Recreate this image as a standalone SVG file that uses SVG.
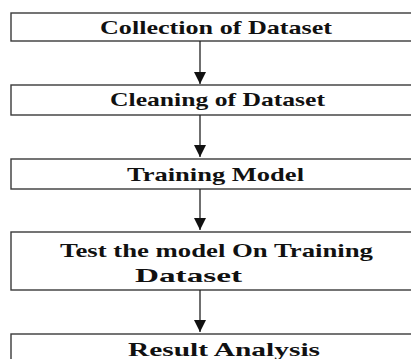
<svg xmlns="http://www.w3.org/2000/svg" width="411" height="359" viewBox="0 0 411 359">
<defs>
<style>
.box{fill:#fff;stroke:#3a3a3a;stroke-width:1.4}
.t{font-family:'Liberation Serif','Times New Roman',serif;font-weight:700;font-size:19.5px;fill:#111}
.c{stroke:#222;stroke-width:1.3;fill:none}
</style>
<marker id="ah" markerUnits="userSpaceOnUse" markerWidth="14" markerHeight="12" refX="12" refY="6" orient="auto">
<path d="M0,0 L12,6 L0,12 Z" fill="#111"/>
</marker>
</defs>
<rect width="411" height="359" fill="#fff"/>
<g id="n1">
<rect class="box" x="11" y="13" width="420" height="28"/>
<text class="t" x="100" y="34" textLength="232" lengthAdjust="spacingAndGlyphs">Collection of Dataset</text>
</g>
<g id="n2">
<rect class="box" x="11" y="85" width="420" height="30"/>
<text class="t" x="110" y="106" textLength="215" lengthAdjust="spacingAndGlyphs">Cleaning of Dataset</text>
</g>
<g id="n3">
<rect class="box" x="11" y="159" width="420" height="30"/>
<text class="t" x="127" y="181" textLength="177" lengthAdjust="spacingAndGlyphs">Training Model</text>
</g>
<g id="n4">
<rect class="box" x="11" y="232" width="420" height="58"/>
<text class="t" x="60" y="257" textLength="313" lengthAdjust="spacingAndGlyphs">Test the model On Training</text>
<text class="t" x="135" y="282" textLength="107" lengthAdjust="spacingAndGlyphs">Dataset</text>
</g>
<g id="n5">
<rect class="box" x="11" y="334" width="420" height="40"/>
<text class="t" x="128" y="356" textLength="192" lengthAdjust="spacingAndGlyphs">Result Analysis</text>
</g>
<g id="connectors">
<line class="c" x1="200" y1="41" x2="200" y2="84" marker-end="url(#ah)"/>
<line class="c" x1="200" y1="115" x2="200" y2="157" marker-end="url(#ah)"/>
<line class="c" x1="200" y1="189" x2="200" y2="230" marker-end="url(#ah)"/>
<line class="c" x1="200" y1="290" x2="200" y2="332" marker-end="url(#ah)"/>
</g>
</svg>
